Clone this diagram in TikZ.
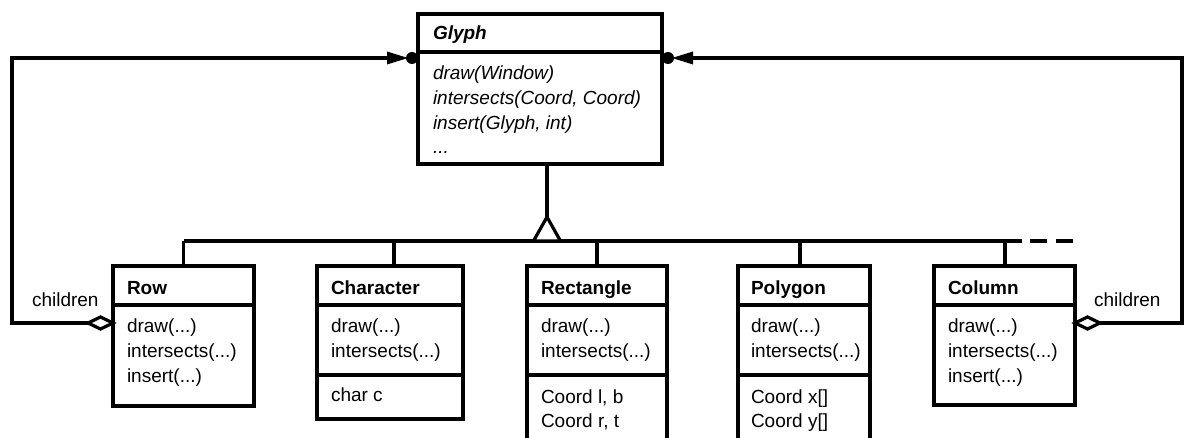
\documentclass[tikz,border=0pt]{standalone}
\usepackage{fontspec}
\setmainfont{Liberation Sans}
\begin{document}
\begin{tikzpicture}[x=1pt,y=-1pt,line width=3.4pt,
  classbox/.style={draw,rectangle,outer sep=0pt,inner sep=0pt,anchor=north west,line width=3.4pt},
  txt/.style={inner sep=0pt,outer sep=0pt,anchor=base west,font=\fontsize{19}{25}\selectfont},
  conn/.style={line width=3.2pt},
  aggdiamond/.style={line width=3.2pt,fill=white,line join=miter},
  inhtri/.style={line width=3.2pt,fill=white,line join=miter}]
\useasboundingbox (0,0) rectangle (1184,438);

% class boxes
\node[classbox,minimum width=244pt,minimum height=150pt] (glyph) at (418,14) {};
\node[classbox,minimum width=141pt,minimum height=140pt] (row) at (113,266) {};
\node[classbox,minimum width=146pt,minimum height=153pt] (character) at (317,266) {};
\node[classbox,minimum width=140pt,minimum height=185pt] (rectangle) at (527,266) {};
\node[classbox,minimum width=132pt,minimum height=185pt] (polygon) at (738,266) {};
\node[classbox,minimum width=141pt,minimum height=139pt] (column) at (934,266) {};

% dividers
\draw (glyph.west |- 0,52) -- (glyph.east |- 0,52);
\foreach \b in {row,character,rectangle,polygon,column}
  \draw (\b.west |- 0,305) -- (\b.east |- 0,305);
\foreach \b in {character,rectangle,polygon}
  \draw (\b.west |- 0,375) -- (\b.east |- 0,375);

% texts
\node[txt] (gN) at (433,40) {\textbf{\textit{Glyph}}};
\node[txt] (gM1) at (433,80) {\textit{draw(Window)}};
\node[txt] (gM2) at (433,105) {\textit{intersects(Coord, Coord)}};
\node[txt] (gM3) at (433,130) {\textit{insert(Glyph, int)}};
\node[txt] (gM4) at (433,154) {\textit{...}};

\node[txt] (rN) at (127,295) {\textbf{Row}};
\node[txt] (rM1) at (127,333) {draw(...)};
\node[txt] (rM2) at (127,358) {intersects(...)};
\node[txt] (rM3) at (127,383) {insert(...)};

\node[txt] (cN) at (331,295) {\textbf{Character}};
\node[txt] (cM1) at (331,333) {draw(...)};
\node[txt] (cM2) at (331,358) {intersects(...)};
\node[txt] (cA1) at (331,402) {char c};

\node[txt] (reN) at (541,295) {\textbf{Rectangle}};
\node[txt] (reM1) at (541,333) {draw(...)};
\node[txt] (reM2) at (541,358) {intersects(...)};
\node[txt] (reA1) at (541,403) {Coord l, b};
\node[txt] (reA2) at (541,427) {Coord r, t};

\node[txt] (pN) at (751,295) {\textbf{Polygon}};
\node[txt] (pM1) at (751,333) {draw(...)};
\node[txt] (pM2) at (751,358) {intersects(...)};
\node[txt] (pA1) at (751,403) {Coord x[]};
\node[txt] (pA2) at (751,427) {Coord y[]};

\node[txt] (coN) at (948,295) {\textbf{Column}};
\node[txt] (coM1) at (948,333) {draw(...)};
\node[txt] (coM2) at (948,358) {intersects(...)};
\node[txt] (coM3) at (948,383) {insert(...)};

\node[txt] (chL) at (32,307) {children};
\node[txt] (chR) at (1094,307) {children};

% inheritance
\coordinate (apex) at (547,217);
\coordinate (busL) at (183.5,241);
\coordinate (busR) at (1022,241);
\draw[conn] (apex |- glyph.south) -- (apex);
\draw[conn] (busL) -- (busR);
\draw[conn,dash pattern=on 17pt off 9pt] (1030,241) -- (1074,241);
\draw[conn] (busL) -- (row.north);
\draw[conn] (394,241) -- (394,266);
\draw[conn] (597,241) -- (597,266);
\draw[conn] (800,241) -- (800,266);
\draw[conn] (1005,241) -- (1005,266);
\draw[inhtri] (apex) -- (533.5,241) -- (560.5,241) -- cycle;

% aggregation Row -> Glyph
\coordinate (rowAgg) at (row.west |- 0,323);
\coordinate (glyphL) at (glyph.west |- 0,58);
\draw[conn] (88,323) -- (12,323) -- (12,58) -- (390,58);
\draw[aggdiamond] (rowAgg) -- (100.5,317) -- (88,323) -- (100.5,329) -- cycle;
\fill (glyphL) ++(-6,0) circle (6pt);
\fill (408,58) -- (387,51.5) -- (387,64.5) -- cycle;

% aggregation Column -> Glyph
\coordinate (colAgg) at (column.east |- 0,323);
\coordinate (glyphR) at (glyph.east |- 0,58);
\draw[conn] (1100,323) -- (1182,323) -- (1182,58) -- (690,58);
\draw[aggdiamond] (colAgg) -- (1087.5,317) -- (1100,323) -- (1087.5,329) -- cycle;
\fill (glyphR) ++(6,0) circle (6pt);
\fill (672,58) -- (693,51.5) -- (693,64.5) -- cycle;
\end{tikzpicture}
\end{document}
